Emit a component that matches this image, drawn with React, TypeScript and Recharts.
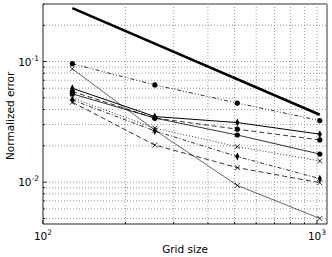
import { LineChart, Line, XAxis, YAxis, ReferenceLine } from 'recharts'

const gridSizes = [128, 256, 512, 1024]
const refSizes = [128, 1024]
const refError = [0.277, 0.0362]
const dashDotDots = [0.096, 0.064, 0.0453, 0.0324]
const solidPlus = [0.06, 0.035, 0.0312, 0.025]
const dashedDots = [0.0565, 0.034, 0.0275, 0.0224]
const solidDots = [0.054, 0.034, 0.0246, 0.0171]
const dottedX = [0.05, 0.028, 0.0197, 0.015]
const dashDotDiamond = [0.048, 0.0266, 0.0163, 0.0107]
const dashedX = [0.046, 0.0203, 0.0132, 0.0099]
const thinSolidX = [0.087, 0.027, 0.0094, 0.005]

const xTicks = [100, 200, 300, 400, 500, 600, 700, 800, 900, 1000]
const yTicks = [0.005, 0.006, 0.007, 0.008, 0.009, 0.01, 0.02, 0.03, 0.04, 0.05, 0.06, 0.07, 0.08, 0.09, 0.1, 0.2, 0.3]
const xMajor: Record<number, string> = { 100: '2', 1000: '3' }
const yMajor: Record<number, string> = { 0.01: '-2', 0.1: '-1' }

const X_DOMAIN: [number, number] = [100, 1088]
const Y_DOMAIN: [number, number] = [0.0045, 0.3]
const LEFT = 43
const BOTTOM = 224
const FONT = 'DejaVu Sans, sans-serif'

const pts = (xs: number[], ys: number[]) => xs.map((x, i) => ({ x, y: ys[i] }))

const dotMark = (p: any) => <circle key={p.index} cx={p.cx} cy={p.cy} r={2.6} fill="#000" />
const xMark = (p: any) => (
  <path key={p.index} d={`M${p.cx - 2.5},${p.cy - 2.5}L${p.cx + 2.5},${p.cy + 2.5}M${p.cx - 2.5},${p.cy + 2.5}L${p.cx + 2.5},${p.cy - 2.5}`} stroke="#000" strokeWidth={0.8} />
)
const diamondMark = (p: any) => (
  <path key={p.index} d={`M${p.cx},${p.cy - 4}L${p.cx + 2},${p.cy}L${p.cx},${p.cy + 4}L${p.cx - 2},${p.cy}Z`} fill="#000" />
)

const XTick = (p: any) => {
  const v = p.payload.value
  const cx = p.payload.coordinate
  const major = xMajor[v]
  return (
    <g>
      <line x1={cx} x2={cx} y1={BOTTOM} y2={BOTTOM - (major ? 4 : 2)} stroke="#000" strokeWidth={0.8} />
      {major && (
        <text x={cx} y={240} textAnchor="middle" fontSize={10.5} fontFamily={FONT} fill="#000">
          10<tspan dy={-5} fontSize={7.5}>{major}</tspan>
        </text>
      )}
    </g>
  )
}

const YTick = (p: any) => {
  const v = p.payload.value
  const cy = p.payload.coordinate
  const major = yMajor[v]
  return (
    <g>
      <line x1={LEFT} x2={LEFT + (major ? 4 : 2)} y1={cy} y2={cy} stroke="#000" strokeWidth={0.8} />
      {major && (
        <text x={39} y={cy + 4} textAnchor="end" fontSize={10.5} fontFamily={FONT} fill="#000">
          10<tspan dy={-5} fontSize={7.5}>{major}</tspan>
        </text>
      )}
    </g>
  )
}

export default function App() {
  return (
    <div style={{ position: 'absolute', left: 0, top: 0, background: '#fff' }}>
      <LineChart width={332} height={257} margin={{ top: 4, right: 5, left: 8, bottom: 8 }}>
        <XAxis
          type="number"
          dataKey="x"
          scale="log"
          domain={X_DOMAIN}
          allowDataOverflow
          ticks={xTicks}
          tick={XTick}
          tickLine={false}
          axisLine={{ stroke: '#222' }}
          height={25}
          interval={0}
          label={{ value: 'Grid size', position: 'insideBottom', offset: 0, dy: 4, fontSize: 10.5, fontFamily: FONT, fill: '#000' }}
        />
        <YAxis
          type="number"
          dataKey="y"
          scale="log"
          domain={Y_DOMAIN}
          allowDataOverflow
          ticks={yTicks}
          tick={YTick}
          tickLine={false}
          axisLine={{ stroke: '#222' }}
          width={35}
          interval={0}
          label={{ value: 'Normalized error', angle: -90, position: 'insideLeft', dx: -3, dy: 46, fontSize: 10.5, fontFamily: FONT, fill: '#000' }}
        />
        {xTicks.slice(1).map(v => (
          <ReferenceLine key={'gx' + v} x={v} stroke="#999" strokeDasharray="1 2" />
        ))}
        {yTicks.map(v => (
          <ReferenceLine key={'gy' + v} y={v} stroke="#999" strokeDasharray="1 2" />
        ))}
        <ReferenceLine y={Y_DOMAIN[1]} stroke="#999" strokeWidth={2} />
        <ReferenceLine x={X_DOMAIN[1]} stroke="#999" strokeWidth={2} />
        <Line data={pts(refSizes, refError)} dataKey="y" stroke="#000" strokeWidth={2.6} dot={false} isAnimationActive={false} />
        <Line data={pts(gridSizes, dashDotDots)} dataKey="y" stroke="#000" strokeWidth={0.8} strokeDasharray="4 2 1 2 1 2" dot={dotMark} isAnimationActive={false} />
        <Line data={pts(gridSizes, solidPlus)} dataKey="y" stroke="#000" strokeWidth={1} dot={diamondMark} isAnimationActive={false} />
        <Line data={pts(gridSizes, dashedDots)} dataKey="y" stroke="#000" strokeWidth={0.8} strokeDasharray="5 3" dot={dotMark} isAnimationActive={false} />
        <Line data={pts(gridSizes, solidDots)} dataKey="y" stroke="#000" strokeWidth={0.8} dot={dotMark} isAnimationActive={false} />
        <Line data={pts(gridSizes, dottedX)} dataKey="y" stroke="#000" strokeWidth={0.8} strokeDasharray="1 2" dot={xMark} isAnimationActive={false} />
        <Line data={pts(gridSizes, dashDotDiamond)} dataKey="y" stroke="#000" strokeWidth={0.8} strokeDasharray="4 2 1 2" dot={diamondMark} isAnimationActive={false} />
        <Line data={pts(gridSizes, dashedX)} dataKey="y" stroke="#000" strokeWidth={0.8} strokeDasharray="5 3" dot={xMark} isAnimationActive={false} />
        <Line data={pts(gridSizes, thinSolidX)} dataKey="y" stroke="#000" strokeWidth={0.6} dot={xMark} isAnimationActive={false} />
      </LineChart>
    </div>
  )
}
